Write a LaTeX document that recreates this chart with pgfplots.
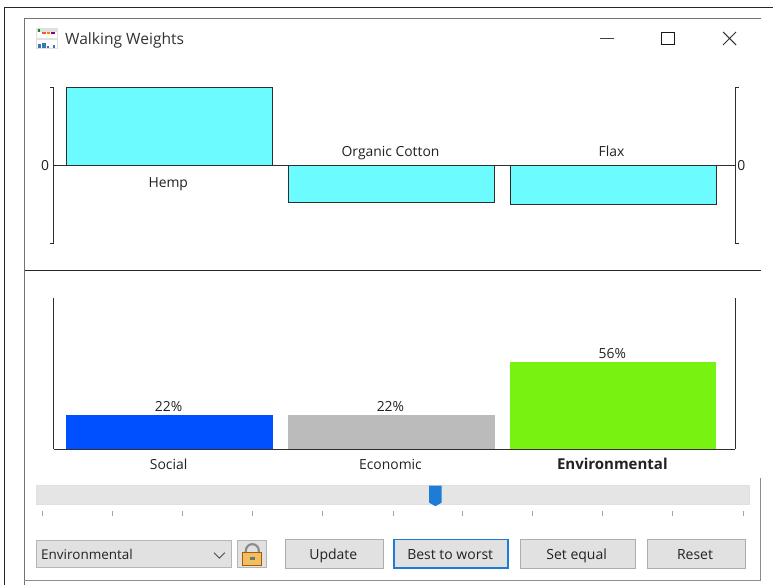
\documentclass[border=0pt]{standalone}
\usepackage{fontspec}
\setmainfont{Open Sans}
\usepackage{pgfplots}
\pgfplotsset{compat=1.18}
\definecolor{cyanbar}{HTML}{6CFBFF}
\definecolor{axisc}{HTML}{2E2E2E}
\definecolor{btn}{HTML}{E1E1E1}
\definecolor{btnb}{HTML}{ADADAD}
\definecolor{blueh}{HTML}{1E7BD6}
\definecolor{txt}{HTML}{222222}
\definecolor{socialc}{HTML}{0050FF}
\definecolor{econc}{HTML}{BBBBBB}
\definecolor{envc}{HTML}{77F211}
\definecolor{icon}{HTML}{3A78B4}
\definecolor{gold}{HTML}{EFC063}
\newcommand{\lab}{\fontsize{13.9}{15}\selectfont}
\newcommand{\but}{\fontsize{14}{16}\selectfont}
\begin{document}
\begin{tikzpicture}[x=1pt,y=-1pt]
\fill[white] (0,0) rectangle (773,585);
% frames
\draw[black!85,line width=1pt] (4.5,585) -- (4.5,7.5) -- (773,7.5);
\draw[black!55,line width=0.9pt] (24.5,585) -- (24.5,18.5) -- (761,18.5);
\draw[black!45,line width=0.9pt] (24.5,581) -- (760.5,581) -- (760.5,478);
\draw[black!85,line width=1.1pt] (25,270.3) -- (761,270.3);
% title bar
\fill[black!12] (36,28) rectangle (58,49);
\fill[white] (37,32) rectangle (57,38);
\fill[white] (37,40) rectangle (57,48);
\fill[green!60!black] (38,29) rectangle (40,32.5);
\fill[red!70] (42,32.5) rectangle (46,34);
\fill[orange] (47,32.5) rectangle (50,34);
\fill[violet] (51,32.5) rectangle (55,34);
\fill[icon] (38,44) rectangle (41,48);
\fill[icon] (42,43) rectangle (46,48);
\fill[icon] (47,46.5) rectangle (49.5,48);
\fill[icon] (53,45) rectangle (55,48);
\node[anchor=base west,inner sep=0pt,text=black!80,font=\fontsize{15.6}{17}\selectfont] at (65,45) {Walking Weights};
\draw[black!75,line width=1pt] (600,39) -- (614,39);
\draw[black!90,line width=0.9pt] (661.5,32) rectangle (674.5,44.5);
\draw[black!80,line width=1pt] (723.5,32) -- (736.5,45) (736.5,32) -- (723.5,45);
% upper axis
\begin{axis}[
  at={(53.7pt,-243.7pt)},anchor=south west,
  scale only axis,width=682pt,height=156pt,
  xmin=-0.5225,xmax=2.5495,ymin=-1,ymax=1,
  axis x line=middle,axis y line=box,
  axis line style={axisc,line width=1.1pt,-},
  xtick=\empty,
  ytick={0},yticklabels={0},
  major tick length=0pt,
  yticklabel style={font=\lab,text=txt,xshift=-1pt},
  /pgf/number format/assume math mode=true,
  extra y ticks={-1,1},extra y tick labels={},
  extra tick style={tick align=outside,major tick length=3.5pt,tick style={axisc,line width=1pt},ytick pos=both},
  clip=false,
  ybar,bar width=0.928,bar shift=0pt,
]
\addplot[draw=axisc,line width=1.2pt,fill=cyanbar] coordinates {(0,1.0) (1,-0.475) (2,-0.5)};
\node[anchor=base,font=\lab,text=txt] at (axis cs:-0.006,-0.282) {Hemp};
\node[anchor=base,font=\lab,text=txt] at (axis cs:0.996,0.115) {Organic Cotton};
\node[anchor=base,font=\lab,text=txt] at (axis cs:1.992,0.115) {Flax};
\node[anchor=west,inner sep=0pt,font=\lab,text=txt] at (axis cs:2.5495,0) {\kern2pt 0};
\end{axis}
% lower axis
\begin{axis}[
  at={(53.7pt,-449.6pt)},anchor=south west,
  scale only axis,width=682pt,height=151pt,
  xmin=-0.5225,xmax=2.5495,ymin=0,ymax=97,
  axis x line=bottom,axis y line=box,
  axis line style={axisc,line width=1.1pt,-},
  ytick=\empty,
  xtick={0,1,2},xticklabels={Social,Economic,\fontsize{15}{15}\selectfont\textbf{Environmental}},
  major tick length=0pt,
  xticklabel style={font=\lab,text=txt,anchor=base,yshift=-20pt,xshift=-1pt},
  clip=false,
  ybar,bar width=0.93,bar shift=0pt,
  /pgf/number format/assume math mode=true,
  nodes near coords={\pgfmathprintnumber\pgfplotspointmeta\%},
  every node near coord/.append style={font=\lab,text=txt,inner sep=1.5pt,yshift=2pt,xshift=-1pt},
]
\addplot[draw=none,fill=socialc] coordinates {(0,22)};
\addplot[draw=none,fill=econc] coordinates {(1,22)};
\addplot[draw=none,fill=envc] coordinates {(2,56)};
\end{axis}
% slider
\draw[black!12,fill=black!10,line width=1pt] (36.5,485.5) rectangle (749.5,504.5);
\fill[blueh] (429.5,486) -- (442,486) -- (442,503) -- (435.7,506.5) -- (429.5,503) -- cycle;
\foreach \x in {42,112.7,183,253,323,393.5,463,533,603,673,744}
  \draw[black!35,line width=0.8pt] (\x,511.5) -- (\x,516);
% controls
\draw[btnb!90,fill=btn,line width=1pt] (36.5,540.5) rectangle (231.5,568);
\node[anchor=base west,inner sep=0pt,text=txt,font=\fontsize{13.5}{15}\selectfont] at (41,560) {Environmental};
\draw[black!70,line width=0.9pt] (214,553) -- (219.5,558.5) -- (225,553);
\draw[btnb!90,fill=btn,line width=1pt] (238,540.5) rectangle (267,568);
\draw[black!45,line width=2.2pt] (246,554) -- (246,551) arc[start angle=180,end angle=360,radius=6.5] -- (259,554);
\fill[gold] (243,553) rectangle (262,565.5);
\draw[orange!70!black,line width=0.7pt] (243,553) rectangle (262,565.5);
\fill[black!55] (250,557) rectangle (255,560);
\foreach \a/\b/\t in {285/384/Update,520/636/Set equal,647/746/Reset}{
  \draw[btnb,fill=btn,line width=1pt] (\a.5,539.5) rectangle (\b,568.5);
  \node[anchor=base,text=txt,font=\but] at ({(\a+\b)/2-1},560) {\t};
}
\draw[blueh,fill=btn,line width=1.6pt] (394,540) rectangle (508.5,568.5);
\node[anchor=base,text=txt,font=\but] at (450.5,560) {Best to worst};
\end{tikzpicture}
\end{document}
